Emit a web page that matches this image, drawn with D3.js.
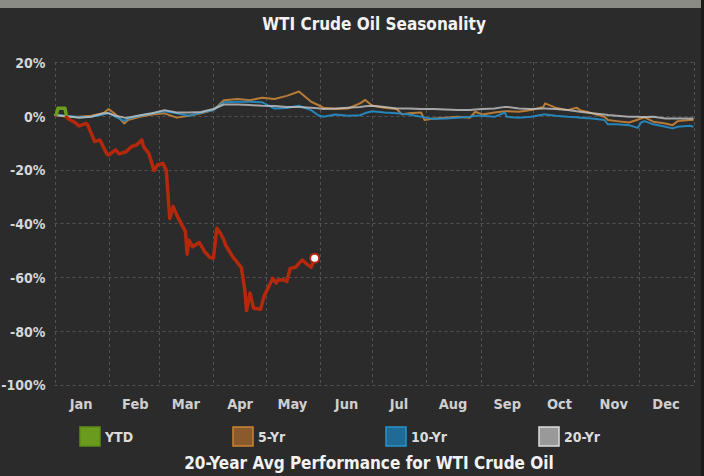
<!DOCTYPE html>
<html>
<head>
<meta charset="utf-8">
<script src="https://cdn.jsdelivr.net/npm/d3@7"></script>
<style>
	body { margin: 0; background: #2b2b2b; }
	svg { display: block; }
	text { font-family: "DejaVu Sans Condensed", "DejaVu Sans", sans-serif; font-weight: bold; }
</style>
</head>
<body>
<script>
var w = 704,
	h = 476;

// tick labels
var monthLabels = ['Jan', 'Feb', 'Mar', 'Apr', 'May', 'Jun', 'Jul', 'Aug', 'Sep', 'Oct', 'Nov', 'Dec'],
	yTicks = [20, 0, -20, -40, -60, -80, -100],
	seriesNames = ['YTD', '5-Yr', '10-Yr', '20-Yr'];

// YTD (2020), percent change
var ytdDates = ['01-01','01-02','01-03','01-07','01-08','01-09','01-13','01-15','01-19','01-20',
	'01-24','01-27','01-31','02-01','02-05','02-07','02-11','02-14','02-17','02-20',
	'02-21','02-24','02-27','02-29','03-03','03-05','03-07','03-09','03-11','03-14',
	'03-16','03-17','03-18','03-20','03-24','03-27','03-30','04-01','04-03','04-05',
	'04-07','04-08','04-12','04-17','04-19','04-20','04-22','04-24','04-28','04-30',
	'05-05','05-07','05-08','05-11','05-13','05-15','05-18','05-20','05-22','05-24',
	'05-27','05-29'];
var ytdValues = [0,0.4,2.8,2.8,-0.6,-1.2,-2.6,-3.8,-2.8,-3.4,
	-9.6,-9.0,-14.2,-14.6,-12.7,-14.2,-13.4,-11.5,-10.9,-9.0,
	-11.5,-14.0,-20.4,-18.3,-17.7,-20.2,-38.2,-33.8,-36.9,-40.7,
	-43.1,-51.5,-46.3,-48.7,-47.2,-50.6,-52.7,-53.0,-41.9,-43.7,
	-46.2,-48.1,-52.4,-56.4,-64.8,-72.5,-66.0,-71.6,-72.0,-67.3,
	-60.5,-62.3,-61.1,-61.0,-61.7,-56.8,-56.4,-54.9,-53.7,-54.9,
	-56.4,-53.0];

// seasonal averages, day of year
var seasonDays = [0,7,14,21,28,31,35,40,42,49,
	56,63,70,77,84,91,97,105,112,119,
	126,133,140,147,151,154,161,168,175,178,
	182,189,196,199,203,210,212,217,224,231,
	238,241,245,252,258,259,266,273,280,281,
	287,294,299,301,308,315,317,322,329,334,
	336,338,343,350,354,357,364,366];
var fiveYr = [0.3,-0.4,-0.4,0,0.9,2.5,0.5,-2.9,-1.6,-0.4,
	0.5,0.9,-0.7,0,0.9,2.1,5.8,6.2,5.8,6.7,
	6.2,7.4,9.0,5.2,4.0,3.0,2.5,2.7,4.6,5.9,
	3.7,3.0,2.5,0.5,0.9,1.2,-1.6,-1.0,-0.7,-0.4,
	-0.7,1.5,0.5,1.2,1.7,1.7,1.5,2.1,3.3,4.6,
	3.0,2.1,3.0,2.1,0.9,-0.4,-1.6,-2.0,-2.5,-1.5,
	-1.0,-0.6,-2.2,-2.9,-3.5,-2.0,-1.6,-1.6];
var tenYr = [0.3,0,-0.6,-0.4,0.5,1.1,-0.4,-2.0,-1.0,0,
	0.9,1.7,0.9,0,1.2,2.1,5.0,5.2,5.2,5.0,
	2.7,2.9,3.7,2.1,0.2,-0.4,0.5,0,0.2,1.0,
	1.7,1.2,0.9,0.7,0.5,-0.4,-0.6,-1.2,-1.0,-0.7,
	-0.4,0,0,-0.4,1.2,-0.4,-0.7,-0.4,0.5,0.5,
	0,-0.4,-0.6,-0.7,-1.0,-1.6,-3.2,-3.2,-3.5,-4.5,
	-2.5,-2.0,-3.2,-4.1,-4.7,-4.1,-3.7,-4.1];
var twentyYr = [0.3,-0.2,-0.7,-0.4,0.9,0.9,0,-0.7,-0.7,0.2,
	0.9,2.1,1.2,1.2,1.4,2.5,4.2,4.2,4.0,3.7,
	3.6,3.3,3.3,3.0,2.8,2.5,2.7,3.0,3.3,3.5,
	3.7,3.3,2.7,2.7,2.7,2.5,2.5,2.5,2.3,2.1,
	2.1,2.3,2.5,2.7,3.3,3.3,2.7,2.5,2.7,2.7,
	2.5,2.1,1.7,1.5,0.9,0.5,0.3,0,-0.4,-0.4,
	-0.5,-0.5,-0.4,-1.0,-1.0,-1.0,-1.0,-1.0];

var plotL = 54.5, plotR = 693.5, plotT = 62, plotB = 384.5,
	year0 = new Date(Date.UTC(2020, 0, 1)),
	year1 = new Date(Date.UTC(2021, 0, 1));

var x = d3.scaleUtc().domain([year0, year1]).range([plotL, plotR]),
	y = d3.scaleLinear().domain([-100, 20]).range([plotB, plotT]);

var svg = d3.select('body').append('svg')
	.attr('width', w)
	.attr('height', h);

svg.append('rect').attr('width', w).attr('height', h).style('fill', '#2b2b2b');
svg.append('rect').attr('width', w).attr('height', 8).style('fill', '#8b8b85');
svg.append('rect').attr('x', 701).attr('width', 3).attr('height', h).style('fill', '#1b1b19');

svg.append('text')
	.attr('x', 374).attr('y', 30)
	.attr('text-anchor', 'middle')
	.style('font-size', '17px').style('fill', '#f2f2f2')
	.text('WTI Crude Oil Seasonality');

// grid
var grid = svg.append('g').style('stroke', '#525252').style('stroke-dasharray', '3,3').style('stroke-width', 1);
grid.selectAll('.hg').data(yTicks).enter().append('line')
	.attr('x1', plotL).attr('x2', plotR)
	.attr('y1', function(d) { return Math.round(y(d)) + 0.5 })
	.attr('y2', function(d) { return Math.round(y(d)) + 0.5 });
grid.selectAll('.vg').data(d3.utcMonth.range(year0, d3.utcDay.offset(year1, 1))).enter().append('line')
	.attr('y1', plotT).attr('y2', plotB)
	.attr('x1', function(d) { return Math.round(x(d)) + 0.5 })
	.attr('x2', function(d) { return Math.round(x(d)) + 0.5 });

// axes
var yAxis = d3.axisLeft(y).tickValues(yTicks).tickSize(0).tickPadding(9)
	.tickFormat(function(d) { return d + '%' });
var ya = svg.append('g').attr('transform', 'translate(' + plotL + ',1)').call(yAxis);
ya.select('.domain').remove();
ya.selectAll('text').style('font-size', '14px').style('fill', '#d6d6d6').style('font-family', null);

var midMonths = monthLabels.map(function(m, i) { return new Date(Date.UTC(2020, i, 16)) });
var xAxis = d3.axisBottom(x).tickValues(midMonths).tickSize(0).tickPadding(14)
	.tickFormat(function(d, i) { return monthLabels[i] });
var xa = svg.append('g').attr('transform', 'translate(0,' + plotB + ')').call(xAxis);
xa.select('.domain').remove();
xa.selectAll('text').style('font-size', '14.5px').style('fill', '#cfcfcf').style('font-family', null);

// seasonal lines
function dayDate(d) { return d3.utcDay.offset(year0, d) }
var line = d3.line()
	.x(function(d) { return x(d[0]) })
	.y(function(d) { return y(d[1]) });

var seasonal = [
	{ values: fiveYr, color: '#c07f38', op: 0.95 },
	{ values: tenYr, color: '#2689c0', op: 0.95 },
	{ values: twentyYr, color: '#c4c4c4', op: 0.8 }
];
seasonal.forEach(function(s) {
	var pts = seasonDays.map(function(d, i) { return [dayDate(d), s.values[i]] });
	svg.append('path')
		.datum(pts)
		.attr('d', line)
		.style('fill', 'none')
		.style('stroke', s.color)
		.style('stroke-opacity', s.op)
		.style('stroke-width', 2)
		.style('stroke-linejoin', 'round');
});

// YTD line, green above zero and red below
var ytdPts = ytdDates.map(function(d, i) {
	var p = d.split('-');
	return [new Date(Date.UTC(2020, +p[0] - 1, +p[1])), ytdValues[i]];
});
var defs = svg.append('defs');
defs.append('clipPath').attr('id', 'above').append('rect')
	.attr('x', 0).attr('y', 0).attr('width', w).attr('height', y(0));
defs.append('clipPath').attr('id', 'below').append('rect')
	.attr('x', 0).attr('y', y(0)).attr('width', w).attr('height', h);

[['above', '#6a9e1e'], ['below', '#b4290c']].forEach(function(c) {
	svg.append('path')
		.datum(ytdPts)
		.attr('d', line)
		.attr('clip-path', 'url(#' + c[0] + ')')
		.style('fill', 'none')
		.style('stroke', c[1])
		.style('stroke-width', 3.5)
		.style('stroke-linejoin', 'round');
});

var last = ytdPts[ytdPts.length - 1];
svg.append('circle')
	.attr('cx', x(last[0])).attr('cy', y(last[1])).attr('r', 4.5)
	.style('fill', '#fff').style('stroke', '#b4290c').style('stroke-width', 2);

// legend
var legendFill = ['#6a9a1e', '#8a5a2c', '#1f6b95', '#999999'],
	legendStroke = ['#5d8c1a', '#c98535', '#2595d0', '#dddddd'];
var leg = svg.selectAll('.leg').data(seriesNames).enter().append('g')
	.attr('transform', function(d, i) { return 'translate(' + (80 + i * 153) + ',427)' });
leg.append('rect')
	.attr('width', 20).attr('height', 19)
	.style('fill', function(d, i) { return legendFill[i] })
	.style('stroke', function(d, i) { return legendStroke[i] })
	.style('stroke-width', 1.5);
leg.append('text')
	.attr('x', 25).attr('y', 15)
	.style('font-size', '14px').style('fill', '#dcdcdc')
	.text(function(d) { return d });

svg.append('text')
	.attr('x', 369).attr('y', 469)
	.attr('text-anchor', 'middle')
	.style('font-size', '17px').style('fill', '#f2f2f2')
	.text('20-Year Avg Performance for WTI Crude Oil');
</script>
</body>
</html>
